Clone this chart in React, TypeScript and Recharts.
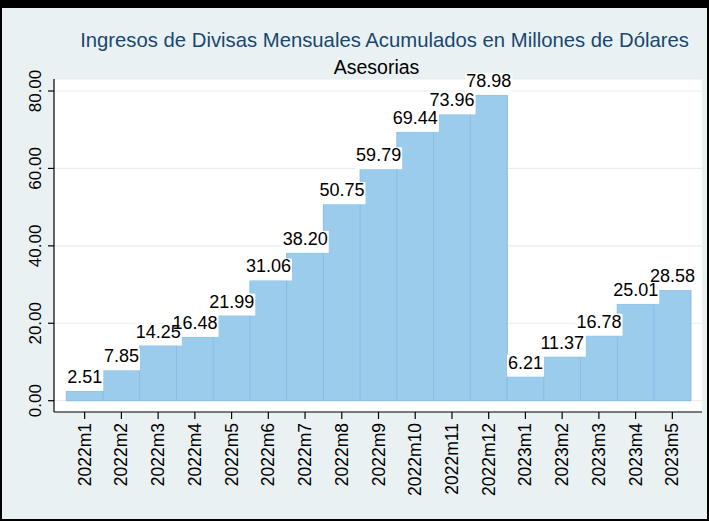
import React from 'react';
import { BarChart, Bar, XAxis, YAxis, CartesianGrid, LabelList } from 'recharts';

const months = [
  '2022m1', '2022m2', '2022m3', '2022m4', '2022m5', '2022m6', '2022m7', '2022m8', '2022m9',
  '2022m10', '2022m11', '2022m12', '2023m1', '2023m2', '2023m3', '2023m4', '2023m5',
];
const asesorias = [
  2.51, 7.85, 14.25, 16.48, 21.99, 31.06, 38.2, 50.75, 59.79, 69.44, 73.96, 78.98,
  6.21, 11.37, 16.78, 25.01, 28.58,
];
const yTicks = [0, 20, 40, 60, 80];

const chartData = months.map((m, i) => ({ mes: m, valor: asesorias[i] }));

const FONT = '"Liberation Sans", Arial, Helvetica, sans-serif';
const BG = '#EAF1F3';
const PAD = { left: 12.3, right: 11.3 };
const LABEL_SIZE = 18;

// ancho aproximado del texto (Arial) para la caja blanca de la etiqueta
const textWidth = (s: string, size: number) =>
  s.split('').reduce((w, c) => w + (c === '.' ? 0.278 : 0.556), 0) * size;

const XTick = (props: any) => {
  const { x, y, payload } = props;
  return (
    <text
      x={x}
      y={y}
      transform={`rotate(-90, ${x}, ${y})`}
      textAnchor="end"
      dominantBaseline="central"
      fontFamily={FONT}
      fontSize={17.5}
      fill="#000"
    >
      {payload.value}
    </text>
  );
};

const YTick = (props: any) => {
  const { x, y, payload } = props;
  return (
    <text
      x={x}
      y={y}
      transform={`rotate(-90, ${x}, ${y})`}
      textAnchor="middle"
      dominantBaseline="central"
      fontFamily={FONT}
      fontSize={17}
      fill="#000"
    >
      {Number(payload.value).toFixed(2)}
    </text>
  );
};

// primero todas las cajas blancas, luego todos los textos
const LabelBox = (props: any) => {
  const { x, y, width, value } = props;
  const w = textWidth(Number(value).toFixed(2), LABEL_SIZE) + 2;
  const cx = x + width / 2;
  return <rect x={cx - w / 2} y={y - 22} width={w} height={22} fill="#fff" />;
};

const LabelText = (props: any) => {
  const { x, y, width, value } = props;
  return (
    <text
      x={x + width / 2}
      y={y - 8}
      textAnchor="middle"
      fontFamily={FONT}
      fontSize={LABEL_SIZE}
      fill="#000"
    >
      {Number(value).toFixed(2)}
    </text>
  );
};

export default function App() {
  return (
    <div style={{ position: 'absolute', left: 0, top: 0, width: 709, height: 521, background: '#000' }}>
      <div style={{ position: 'absolute', left: 2, top: 8, width: 705, height: 511, background: BG }} />
      <svg width={709} height={90} style={{ position: 'absolute', left: 0, top: 0 }}>
        <text x={384.5} y={46.5} textAnchor="middle" fontFamily={FONT} fontSize={20.3} fill="#1A476F">
          Ingresos de Divisas Mensuales Acumulados en Millones de Dólares
        </text>
        <text x={376.5} y={74} textAnchor="middle" fontFamily={FONT} fontSize={19.5} fill="#000">
          Asesorias
        </text>
      </svg>
      <div style={{ position: 'absolute', left: 0, top: 0 }}>
        <BarChart
          width={709}
          height={521}
          data={chartData}
          margin={{ top: 79, right: 7, bottom: 0, left: 0 }}
          barCategoryGap={0}
        >
          <CartesianGrid fill="#fff" vertical={false} stroke="#E6EEF1" strokeWidth={1.2} />
          <XAxis
            dataKey="mes"
            type="category"
            interval={0}
            padding={PAD}
            axisLine={{ stroke: '#000', strokeWidth: 1.2 }}
            tickLine={{ stroke: '#000', strokeWidth: 1.2 }}
            tickSize={7}
            tickMargin={4}
            height={109}
            tick={<XTick />}
          />
          {/* eje oculto para dibujar las etiquetas encima de todas las barras */}
          <XAxis xAxisId="etiquetas" dataKey="mes" type="category" padding={PAD} height={109} hide />
          <YAxis
            type="number"
            domain={[-2.92, 83.1]}
            ticks={yTicks}
            width={54}
            axisLine={{ stroke: '#000', strokeWidth: 1.2 }}
            tickLine={{ stroke: '#000', strokeWidth: 1.2 }}
            tickSize={6}
            tickMargin={12}
            tick={<YTick />}
          />
          <Bar dataKey="valor" fill="#9CCCEC" stroke="#86BFE7" strokeWidth={1} isAnimationActive={false} />
          <Bar
            xAxisId="etiquetas"
            dataKey="valor"
            fill="none"
            stroke="none"
            isAnimationActive={false}
          >
            <LabelList dataKey="valor" content={<LabelBox />} />
            <LabelList dataKey="valor" content={<LabelText />} />
          </Bar>
        </BarChart>
      </div>
    </div>
  );
}
